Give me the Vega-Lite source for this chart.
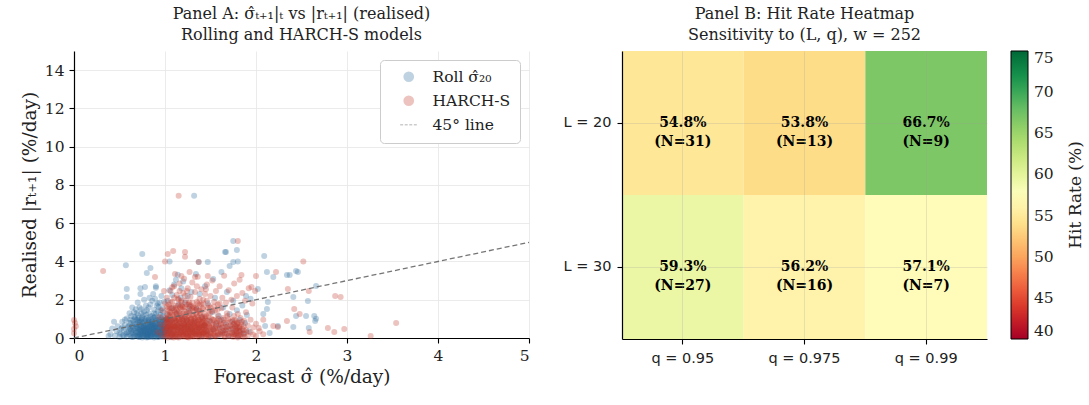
{
"$schema": "https://vega.github.io/schema/vega-lite/v6.json",
"background": "white",
"padding": {"left": 20, "top": 6, "right": 5, "bottom": 5},
"spacing": 31,
"resolve": {"scale": {"color": "independent", "shape": "independent", "opacity": "independent"}, "legend": {"color": "independent", "shape": "independent", "opacity": "independent"}},
"config": {
  "font": "DejaVu Serif",
  "view": {"stroke": null},
  "axis": {"domainColor": "black", "domainWidth": 1.2, "tickColor": "black", "tickSize": 5, "tickWidth": 1.1, "labelFont": "DejaVu Serif", "labelFontSize": 15.5, "labelColor": "#222", "titleFont": "DejaVu Serif", "titleFontSize": 18.5, "titleFontWeight": "normal", "titleColor": "#222", "gridColor": "#e6e6e6", "gridWidth": 0.8, "labelPadding": 5},
  "title": {"font": "DejaVu Serif", "fontSize": 16, "fontWeight": "normal", "color": "#222", "offset": 8, "lineHeight": 21, "anchor": "middle"},
  "legend": {"labelFont": "DejaVu Serif", "titleFont": "DejaVu Serif"}
},
"datasets": {
"diag": [{"x": 0, "y": 0}, {"x": 5, "y": 5}],
"heat": [
 {"L": "L = 20", "q": "q = 0.95", "hit": 54.8, "lab": "54.8%\n(N=31)"},
 {"L": "L = 20", "q": "q = 0.975", "hit": 53.8, "lab": "53.8%\n(N=13)"},
 {"L": "L = 20", "q": "q = 0.99", "hit": 66.7, "lab": "66.7%\n(N=9)"},
 {"L": "L = 30", "q": "q = 0.95", "hit": 59.3, "lab": "59.3%\n(N=27)"},
 {"L": "L = 30", "q": "q = 0.975", "hit": 56.2, "lab": "56.2%\n(N=16)"},
 {"L": "L = 30", "q": "q = 0.99", "hit": 57.1, "lab": "57.1%\n(N=7)"}
],
"pts": [
{"s":"R","x":0.40,"y":0.2},{"s":"R","x":0.42,"y":0.5},{"s":"R","x":0.38,"y":0.1},{"s":"R","x":0.44,"y":0.85},
{"s":"R","x":0.45,"y":0.12},{"s":"R","x":0.47,"y":0.35},{"s":"R","x":0.48,"y":0.62},{"s":"R","x":0.50,"y":0.05},{"s":"R","x":0.50,"y":0.28},{"s":"R","x":0.52,"y":0.48},{"s":"R","x":0.53,"y":0.85},{"s":"R","x":0.54,"y":0.15},{"s":"R","x":0.55,"y":0.40},{"s":"R","x":0.56,"y":0.68},{"s":"R","x":0.57,"y":0.22},{"s":"R","x":0.58,"y":1.02},{"s":"R","x":0.58,"y":0.08},{"s":"R","x":0.59,"y":0.55},{"s":"R","x":0.60,"y":0.30},{"s":"R","x":0.61,"y":0.78},{"s":"R","x":0.62,"y":0.12},{"s":"R","x":0.62,"y":0.45},{"s":"R","x":0.63,"y":1.15},{"s":"R","x":0.64,"y":0.25},{"s":"R","x":0.64,"y":0.62},{"s":"R","x":0.65,"y":0.92},{"s":"R","x":0.65,"y":0.05},{"s":"R","x":0.66,"y":0.38},{"s":"R","x":0.66,"y":1.35},{"s":"R","x":0.67,"y":0.18},{"s":"R","x":0.67,"y":0.72},{"s":"R","x":0.68,"y":0.50},{"s":"R","x":0.68,"y":0.95},{"s":"R","x":0.69,"y":0.10},
{"s":"R","x":0.70,"y":0.32},{"s":"R","x":0.70,"y":0.58},{"s":"R","x":0.70,"y":1.22},{"s":"R","x":0.71,"y":0.05},{"s":"R","x":0.71,"y":0.85},{"s":"R","x":0.72,"y":0.20},{"s":"R","x":0.72,"y":0.44},{"s":"R","x":0.72,"y":1.60},{"s":"R","x":0.73,"y":0.70},{"s":"R","x":0.73,"y":0.12},{"s":"R","x":0.74,"y":0.95},{"s":"R","x":0.74,"y":0.36},{"s":"R","x":0.75,"y":0.02},{"s":"R","x":0.75,"y":0.55},{"s":"R","x":0.75,"y":1.10},{"s":"R","x":0.76,"y":0.25},{"s":"R","x":0.76,"y":0.78},{"s":"R","x":0.77,"y":0.40},{"s":"R","x":0.77,"y":1.40},{"s":"R","x":0.77,"y":0.08},{"s":"R","x":0.78,"y":0.62},{"s":"R","x":0.78,"y":0.18},{"s":"R","x":0.79,"y":0.90},{"s":"R","x":0.79,"y":0.30},{"s":"R","x":0.80,"y":0.48},{"s":"R","x":0.80,"y":1.05},{"s":"R","x":0.80,"y":0.03},{"s":"R","x":0.81,"y":0.72},{"s":"R","x":0.81,"y":0.22},{"s":"R","x":0.82,"y":1.30},{"s":"R","x":0.82,"y":0.55},{"s":"R","x":0.82,"y":0.10},{"s":"R","x":0.83,"y":0.38},{"s":"R","x":0.83,"y":0.85},{"s":"R","x":0.84,"y":0.15},{"s":"R","x":0.84,"y":1.75},{"s":"R","x":0.84,"y":0.65},{"s":"R","x":0.85,"y":0.28},{"s":"R","x":0.85,"y":1.00},{"s":"R","x":0.85,"y":0.45},{"s":"R","x":0.71,"y":0.40},{"s":"R","x":0.73,"y":0.28},{"s":"R","x":0.74,"y":0.60},{"s":"R","x":0.76,"y":0.50},{"s":"R","x":0.78,"y":0.35},{"s":"R","x":0.79,"y":0.12},{"s":"R","x":0.81,"y":0.42},{"s":"R","x":0.83,"y":0.22},{"s":"R","x":0.70,"y":0.15},{"s":"R","x":0.72,"y":0.92},{"s":"R","x":0.75,"y":0.30},{"s":"R","x":0.77,"y":0.65},{"s":"R","x":0.80,"y":0.20},{"s":"R","x":0.82,"y":0.80},{"s":"R","x":0.84,"y":0.35},{"s":"R","x":0.76,"y":1.20},{"s":"R","x":0.79,"y":0.52},{"s":"R","x":0.81,"y":0.05},{"s":"R","x":0.83,"y":0.60},{"s":"R","x":0.85,"y":0.70},
{"s":"R","x":0.86,"y":0.10},{"s":"R","x":0.86,"y":0.52},{"s":"R","x":0.86,"y":1.15},{"s":"R","x":0.87,"y":0.30},{"s":"R","x":0.87,"y":0.75},{"s":"R","x":0.88,"y":0.02},{"s":"R","x":0.88,"y":0.45},{"s":"R","x":0.88,"y":1.48},{"s":"R","x":0.89,"y":0.20},{"s":"R","x":0.89,"y":0.88},{"s":"R","x":0.90,"y":0.60},{"s":"R","x":0.90,"y":0.12},{"s":"R","x":0.90,"y":1.25},{"s":"R","x":0.91,"y":0.38},{"s":"R","x":0.91,"y":0.95},{"s":"R","x":0.92,"y":0.05},{"s":"R","x":0.92,"y":0.68},{"s":"R","x":0.93,"y":0.28},{"s":"R","x":0.93,"y":1.62},{"s":"R","x":0.94,"y":0.50},{"s":"R","x":0.94,"y":0.15},{"s":"R","x":0.95,"y":0.82},{"s":"R","x":0.95,"y":0.35},{"s":"R","x":0.96,"y":1.05},{"s":"R","x":0.96,"y":0.08},{"s":"R","x":0.97,"y":0.58},{"s":"R","x":0.97,"y":0.25},{"s":"R","x":0.98,"y":1.35},{"s":"R","x":0.98,"y":0.42},{"s":"R","x":0.99,"y":0.72},{"s":"R","x":0.99,"y":0.18},{"s":"R","x":1.00,"y":0.95},{"s":"R","x":1.00,"y":0.30},{"s":"R","x":0.87,"y":0.40},{"s":"R","x":0.89,"y":0.55},{"s":"R","x":0.91,"y":0.22},{"s":"R","x":0.93,"y":0.78},{"s":"R","x":0.95,"y":0.10},{"s":"R","x":0.97,"y":0.90},{"s":"R","x":0.99,"y":0.48},{"s":"R","x":0.86,"y":0.85},{"s":"R","x":0.88,"y":0.65},{"s":"R","x":0.90,"y":0.33},{"s":"R","x":0.92,"y":1.10},{"s":"R","x":0.94,"y":0.72},{"s":"R","x":0.96,"y":0.40},{"s":"R","x":0.98,"y":0.15},{"s":"R","x":1.00,"y":0.62},{"s":"R","x":0.89,"y":2.05},{"s":"R","x":0.94,"y":1.85},{"s":"R","x":0.87,"y":2.30},{"s":"R","x":0.91,"y":1.70},{"s":"R","x":0.96,"y":2.20},{"s":"R","x":0.90,"y":2.62},{"s":"R","x":0.99,"y":1.90},
{"s":"R","x":0.60,"y":0.62},{"s":"R","x":0.62,"y":0.95},{"s":"R","x":0.63,"y":0.35},{"s":"R","x":0.65,"y":0.55},{"s":"R","x":0.66,"y":0.12},{"s":"R","x":0.67,"y":1.02},{"s":"R","x":0.68,"y":0.30},{"s":"R","x":0.69,"y":0.75},{"s":"R","x":0.70,"y":0.48},{"s":"R","x":0.71,"y":1.05},{"s":"R","x":0.72,"y":0.05},{"s":"R","x":0.72,"y":0.68},{"s":"R","x":0.73,"y":0.42},{"s":"R","x":0.74,"y":0.18},{"s":"R","x":0.74,"y":1.30},{"s":"R","x":0.75,"y":0.82},{"s":"R","x":0.76,"y":0.38},{"s":"R","x":0.76,"y":0.10},{"s":"R","x":0.77,"y":0.55},{"s":"R","x":0.78,"y":0.98},{"s":"R","x":0.78,"y":0.25},{"s":"R","x":0.79,"y":0.70},{"s":"R","x":0.80,"y":0.38},{"s":"R","x":0.80,"y":1.45},{"s":"R","x":0.81,"y":0.15},{"s":"R","x":0.81,"y":0.60},{"s":"R","x":0.82,"y":0.32},{"s":"R","x":0.82,"y":0.95},{"s":"R","x":0.83,"y":0.08},{"s":"R","x":0.83,"y":0.48},{"s":"R","x":0.84,"y":1.12},{"s":"R","x":0.84,"y":0.25},{"s":"R","x":0.85,"y":0.58},{"s":"R","x":0.85,"y":0.12},{"s":"R","x":0.86,"y":0.38},{"s":"R","x":0.86,"y":0.70},{"s":"R","x":0.87,"y":0.18},{"s":"R","x":0.87,"y":1.05},{"s":"R","x":0.88,"y":0.55},{"s":"R","x":0.88,"y":0.28},{"s":"R","x":0.89,"y":0.08},{"s":"R","x":0.89,"y":0.72},{"s":"R","x":0.90,"y":0.45},{"s":"R","x":0.90,"y":0.95},{"s":"R","x":0.91,"y":0.15},{"s":"R","x":0.91,"y":0.62},{"s":"R","x":0.92,"y":0.35},{"s":"R","x":0.92,"y":1.40},{"s":"R","x":0.93,"y":0.52},{"s":"R","x":0.93,"y":0.05},{"s":"R","x":0.94,"y":0.88},{"s":"R","x":0.94,"y":0.30},{"s":"R","x":0.95,"y":0.58},{"s":"R","x":0.95,"y":1.20},{"s":"R","x":0.96,"y":0.22},{"s":"R","x":0.96,"y":0.75},{"s":"R","x":0.97,"y":0.42},{"s":"R","x":0.97,"y":0.08},{"s":"R","x":0.98,"y":0.65},{"s":"R","x":0.98,"y":0.95},{"s":"R","x":0.99,"y":0.30},{"s":"R","x":1.00,"y":0.12},{"s":"R","x":1.00,"y":0.80},{"s":"R","x":1.01,"y":0.45},{"s":"R","x":1.02,"y":1.00},{"s":"R","x":1.03,"y":0.25},{"s":"R","x":1.04,"y":0.62},{"s":"R","x":1.05,"y":0.40},{"s":"R","x":1.06,"y":0.90},{"s":"R","x":1.08,"y":0.15},{"s":"R","x":0.64,"y":1.60},{"s":"R","x":0.70,"y":1.85},{"s":"R","x":0.79,"y":1.70},{"s":"R","x":0.86,"y":1.95},{"s":"R","x":0.92,"y":1.80},{"s":"R","x":0.83,"y":2.10},{"s":"R","x":0.77,"y":2.0},{"s":"R","x":0.97,"y":1.55},{"s":"R","x":0.61,"y":1.30},{"s":"R","x":0.68,"y":1.50},
{"s":"R","x":0.605,"y":0.2},{"s":"R","x":0.615,"y":0.5},{"s":"R","x":0.625,"y":0.8},{"s":"R","x":0.635,"y":0.05},{"s":"R","x":0.645,"y":0.42},{"s":"R","x":0.655,"y":0.72},{"s":"R","x":0.665,"y":1.1},{"s":"R","x":0.675,"y":0.28},{"s":"R","x":0.685,"y":0.62},{"s":"R","x":0.695,"y":0.95},{"s":"R","x":0.705,"y":0.12},{"s":"R","x":0.715,"y":0.55},{"s":"R","x":0.725,"y":0.82},{"s":"R","x":0.735,"y":0.35},{"s":"R","x":0.745,"y":1.02},{"s":"R","x":0.755,"y":0.15},{"s":"R","x":0.765,"y":0.62},{"s":"R","x":0.775,"y":0.88},{"s":"R","x":0.785,"y":0.45},{"s":"R","x":0.795,"y":1.2},{"s":"R","x":0.805,"y":0.08},{"s":"R","x":0.815,"y":0.92},{"s":"R","x":0.825,"y":0.42},{"s":"R","x":0.835,"y":0.72},{"s":"R","x":0.845,"y":0.05},{"s":"R","x":0.855,"y":0.85},{"s":"R","x":0.865,"y":0.25},{"s":"R","x":0.875,"y":0.6},{"s":"R","x":0.885,"y":1.1},{"s":"R","x":0.895,"y":0.35},{"s":"R","x":0.905,"y":0.78},{"s":"R","x":0.915,"y":0.5},{"s":"R","x":0.925,"y":0.2},{"s":"R","x":0.935,"y":0.95},{"s":"R","x":0.945,"y":0.62},{"s":"R","x":0.955,"y":0.25},{"s":"R","x":0.965,"y":0.52},{"s":"R","x":0.975,"y":1.15},{"s":"R","x":0.985,"y":0.35},{"s":"R","x":0.995,"y":0.85},{"s":"R","x":0.74,"y":1.5},{"s":"R","x":0.82,"y":1.6},{"s":"R","x":0.88,"y":1.3},{"s":"R","x":0.69,"y":1.3},{"s":"R","x":0.95,"y":1.45},{"s":"R","x":0.58,"y":0.3},{"s":"R","x":0.56,"y":0.95},{"s":"R","x":0.53,"y":0.55},{"s":"R","x":0.51,"y":0.2},{"s":"R","x":0.55,"y":0.1},
{"s":"R","x":1.02,"y":0.12},{"s":"R","x":1.02,"y":0.55},{"s":"R","x":1.03,"y":1.20},{"s":"R","x":1.04,"y":0.35},{"s":"R","x":1.05,"y":0.80},{"s":"R","x":1.06,"y":0.05},{"s":"R","x":1.07,"y":0.48},{"s":"R","x":1.08,"y":1.55},{"s":"R","x":1.09,"y":0.25},{"s":"R","x":1.10,"y":0.95},{"s":"R","x":1.11,"y":0.62},{"s":"R","x":1.12,"y":0.15},{"s":"R","x":1.13,"y":1.30},{"s":"R","x":1.14,"y":0.40},{"s":"R","x":1.15,"y":0.75},{"s":"R","x":1.16,"y":0.08},{"s":"R","x":1.17,"y":2.10},{"s":"R","x":1.18,"y":0.52},{"s":"R","x":1.19,"y":1.05},{"s":"R","x":1.20,"y":0.30},{"s":"R","x":1.21,"y":0.68},{"s":"R","x":1.22,"y":1.85},{"s":"R","x":1.23,"y":0.20},{"s":"R","x":1.24,"y":0.90},{"s":"R","x":1.25,"y":0.45},{"s":"R","x":1.26,"y":1.40},{"s":"R","x":1.27,"y":0.10},{"s":"R","x":1.28,"y":0.60},{"s":"R","x":1.29,"y":2.40},{"s":"R","x":1.30,"y":0.35},{"s":"R","x":1.05,"y":2.50},{"s":"R","x":1.10,"y":2.80},{"s":"R","x":1.15,"y":1.75},{"s":"R","x":1.20,"y":2.95},{"s":"R","x":1.25,"y":2.20},{"s":"R","x":1.12,"y":3.05},{"s":"R","x":1.08,"y":2.25},{"s":"R","x":1.18,"y":2.60},{"s":"R","x":1.27,"y":1.65},{"s":"R","x":1.03,"y":1.95},
{"s":"R","x":1.32,"y":0.85},{"s":"R","x":1.34,"y":0.20},{"s":"R","x":1.35,"y":1.50},{"s":"R","x":1.37,"y":0.50},{"s":"R","x":1.38,"y":2.30},{"s":"R","x":1.40,"y":0.10},{"s":"R","x":1.41,"y":1.10},{"s":"R","x":1.43,"y":0.65},{"s":"R","x":1.44,"y":2.70},{"s":"R","x":1.46,"y":0.30},{"s":"R","x":1.47,"y":1.80},{"s":"R","x":1.49,"y":0.90},{"s":"R","x":1.50,"y":0.05},{"s":"R","x":1.52,"y":1.35},{"s":"R","x":1.53,"y":0.45},{"s":"R","x":1.55,"y":2.10},{"s":"R","x":1.56,"y":0.75},{"s":"R","x":1.58,"y":0.15},{"s":"R","x":1.59,"y":1.15},{"s":"R","x":1.60,"y":0.55},{"s":"R","x":1.62,"y":0.95},{"s":"R","x":1.63,"y":0.25},{"s":"R","x":1.64,"y":1.60},{"s":"R","x":1.66,"y":0.40},{"s":"R","x":1.67,"y":0.70},{"s":"R","x":1.68,"y":2.40},{"s":"R","x":1.70,"y":0.12},{"s":"R","x":1.71,"y":1.25},{"s":"R","x":1.72,"y":0.50},{"s":"R","x":1.74,"y":0.85},{"s":"R","x":1.75,"y":1.95},{"s":"R","x":1.76,"y":0.30},{"s":"R","x":1.78,"y":0.62},{"s":"R","x":1.79,"y":1.45},{"s":"R","x":1.80,"y":0.08},{"s":"R","x":1.82,"y":0.95},{"s":"R","x":1.83,"y":0.40},{"s":"R","x":1.85,"y":1.70},{"s":"R","x":1.86,"y":0.22},{"s":"R","x":1.88,"y":0.78},{"s":"R","x":1.90,"y":1.20},{"s":"R","x":1.92,"y":0.35},{"s":"R","x":1.94,"y":2.05},
{"s":"R","x":1.32,"y":7.43},{"s":"R","x":0.75,"y":4.39},{"s":"R","x":0.57,"y":3.8},{"s":"R","x":0.80,"y":3.4},{"s":"R","x":0.84,"y":3.66},{"s":"R","x":1.05,"y":4.0},{"s":"R","x":1.37,"y":3.97},{"s":"R","x":1.47,"y":3.97},{"s":"R","x":1.62,"y":3.45},{"s":"R","x":1.66,"y":4.5},{"s":"R","x":0.58,"y":2.56},{"s":"R","x":0.58,"y":2.14},{"s":"R","x":0.73,"y":2.6},{"s":"R","x":0.78,"y":2.66},{"s":"R","x":0.73,"y":2.3},{"s":"R","x":0.90,"y":2.7},{"s":"R","x":1.14,"y":3.3},{"s":"R","x":1.34,"y":3.34},{"s":"R","x":1.53,"y":3.08},{"s":"R","x":1.75,"y":5.07},{"s":"R","x":1.67,"y":4.5},{"s":"R","x":1.79,"y":4.6},{"s":"R","x":1.80,"y":4.0},{"s":"R","x":1.75,"y":3.97},{"s":"R","x":1.71,"y":3.76},{"s":"R","x":2.09,"y":4.28},{"s":"R","x":2.12,"y":3.45},{"s":"R","x":2.19,"y":3.19},{"s":"R","x":2.44,"y":3.5},{"s":"R","x":2.34,"y":3.29},{"s":"R","x":2.37,"y":3.29},{"s":"R","x":2.46,"y":3.45},{"s":"R","x":2.66,"y":2.72},{"s":"R","x":2.57,"y":1.93},{"s":"R","x":2.41,"y":2.14},{"s":"R","x":2.44,"y":1.15},{"s":"R","x":2.55,"y":1.15},{"s":"R","x":2.64,"y":1.15},{"s":"R","x":2.66,"y":1.0},{"s":"R","x":2.41,"y":0.57},{"s":"R","x":2.58,"y":0.52},{"s":"R","x":2.24,"y":0.63},{"s":"R","x":2.15,"y":0.26},{"s":"R","x":2.10,"y":0.63},{"s":"R","x":2.12,"y":1.52},{"s":"R","x":2.08,"y":1.25},{"s":"R","x":2.13,"y":1.88},{"s":"R","x":2.02,"y":2.56},{"s":"R","x":1.89,"y":2.19},{"s":"R","x":2.65,"y":0.89},
{"s":"H","x":0.0,"y":0.94},{"s":"H","x":0.0,"y":0.47},{"s":"H","x":0.01,"y":0.78},{"s":"H","x":0.0,"y":0.25},{"s":"H","x":0.02,"y":0.62},
{"s":"H","x":0.92,"y":0.3},{"s":"H","x":0.95,"y":0.7},{"s":"H","x":0.96,"y":0.15},{"s":"H","x":0.98,"y":0.5},{"s":"H","x":0.94,"y":1.1},
{"s":"H","x":1.00,"y":0.05},{"s":"H","x":1.00,"y":0.35},{"s":"H","x":1.00,"y":0.70},{"s":"H","x":1.00,"y":1.05},
{"s":"H","x":1.02,"y":0.18},{"s":"H","x":1.02,"y":0.52},{"s":"H","x":1.02,"y":0.88},{"s":"H","x":1.02,"y":1.25},
{"s":"H","x":1.03,"y":0.02},{"s":"H","x":1.03,"y":0.40},{"s":"H","x":1.03,"y":0.75},
{"s":"H","x":1.04,"y":0.25},{"s":"H","x":1.04,"y":0.60},{"s":"H","x":1.04,"y":0.95},{"s":"H","x":1.04,"y":1.40},
{"s":"H","x":1.05,"y":0.10},{"s":"H","x":1.05,"y":0.45},{"s":"H","x":1.05,"y":0.82},
{"s":"H","x":1.06,"y":0.30},{"s":"H","x":1.06,"y":0.65},{"s":"H","x":1.06,"y":1.10},
{"s":"H","x":1.07,"y":0.04},{"s":"H","x":1.07,"y":0.38},{"s":"H","x":1.07,"y":0.72},{"s":"H","x":1.07,"y":1.55},
{"s":"H","x":1.08,"y":0.20},{"s":"H","x":1.08,"y":0.55},{"s":"H","x":1.08,"y":0.90},
{"s":"H","x":1.09,"y":0.12},{"s":"H","x":1.09,"y":0.48},{"s":"H","x":1.09,"y":0.80},{"s":"H","x":1.09,"y":1.20},
{"s":"H","x":1.10,"y":0.28},{"s":"H","x":1.10,"y":0.62},{"s":"H","x":1.10,"y":1.00},
{"s":"H","x":1.11,"y":0.06},{"s":"H","x":1.11,"y":0.42},{"s":"H","x":1.11,"y":0.78},{"s":"H","x":1.11,"y":1.35},
{"s":"H","x":1.12,"y":0.22},{"s":"H","x":1.12,"y":0.58},{"s":"H","x":1.12,"y":0.92},
{"s":"H","x":1.13,"y":0.14},{"s":"H","x":1.13,"y":0.50},{"s":"H","x":1.13,"y":0.85},{"s":"H","x":1.13,"y":1.15},
{"s":"H","x":1.14,"y":0.32},{"s":"H","x":1.14,"y":0.68},{"s":"H","x":1.14,"y":1.05},{"s":"H","x":1.14,"y":1.70},
{"s":"H","x":1.15,"y":0.03},{"s":"H","x":1.15,"y":0.40},{"s":"H","x":1.15,"y":0.74},
{"s":"H","x":1.16,"y":0.24},{"s":"H","x":1.16,"y":0.56},{"s":"H","x":1.16,"y":0.95},{"s":"H","x":1.16,"y":1.30},
{"s":"H","x":1.17,"y":0.10},{"s":"H","x":1.17,"y":0.46},{"s":"H","x":1.17,"y":0.82},
{"s":"H","x":1.18,"y":0.30},{"s":"H","x":1.18,"y":0.64},{"s":"H","x":1.18,"y":1.12},{"s":"H","x":1.18,"y":1.50},
{"s":"H","x":1.19,"y":0.07},{"s":"H","x":1.19,"y":0.38},{"s":"H","x":1.19,"y":0.76},
{"s":"H","x":1.20,"y":0.20},{"s":"H","x":1.20,"y":0.54},{"s":"H","x":1.20,"y":0.90},{"s":"H","x":1.20,"y":1.25},
{"s":"H","x":1.21,"y":0.12},{"s":"H","x":1.21,"y":0.44},{"s":"H","x":1.21,"y":0.80},
{"s":"H","x":1.22,"y":0.34},{"s":"H","x":1.22,"y":0.70},{"s":"H","x":1.22,"y":1.08},{"s":"H","x":1.22,"y":1.62},
{"s":"H","x":1.23,"y":0.05},{"s":"H","x":1.23,"y":0.40},{"s":"H","x":1.23,"y":0.78},
{"s":"H","x":1.24,"y":0.26},{"s":"H","x":1.24,"y":0.60},{"s":"H","x":1.24,"y":0.98},{"s":"H","x":1.24,"y":1.35},
{"s":"H","x":1.25,"y":0.15},{"s":"H","x":1.25,"y":0.48},{"s":"H","x":1.25,"y":0.85},
{"s":"H","x":1.26,"y":0.02},{"s":"H","x":1.26,"y":0.36},{"s":"H","x":1.26,"y":0.72},{"s":"H","x":1.26,"y":1.15},
{"s":"H","x":1.27,"y":0.22},{"s":"H","x":1.27,"y":0.58},{"s":"H","x":1.27,"y":0.94},
{"s":"H","x":1.28,"y":0.10},{"s":"H","x":1.28,"y":0.44},{"s":"H","x":1.28,"y":0.82},{"s":"H","x":1.28,"y":1.45},
{"s":"H","x":1.29,"y":0.30},{"s":"H","x":1.29,"y":0.66},{"s":"H","x":1.29,"y":1.02},
{"s":"H","x":1.30,"y":0.06},{"s":"H","x":1.30,"y":0.40},{"s":"H","x":1.30,"y":0.76},{"s":"H","x":1.30,"y":1.20},
{"s":"H","x":1.31,"y":0.18},{"s":"H","x":1.31,"y":0.52},{"s":"H","x":1.31,"y":0.90},
{"s":"H","x":1.32,"y":0.28},{"s":"H","x":1.32,"y":0.62},{"s":"H","x":1.32,"y":1.05},{"s":"H","x":1.32,"y":1.58},
{"s":"H","x":1.33,"y":0.08},{"s":"H","x":1.33,"y":0.42},{"s":"H","x":1.33,"y":0.80},
{"s":"H","x":1.34,"y":0.20},{"s":"H","x":1.34,"y":0.55},{"s":"H","x":1.34,"y":0.92},{"s":"H","x":1.34,"y":1.30},
{"s":"H","x":1.35,"y":0.12},{"s":"H","x":1.35,"y":0.46},{"s":"H","x":1.35,"y":0.84},
{"s":"H","x":1.36,"y":0.32},{"s":"H","x":1.36,"y":0.68},{"s":"H","x":1.36,"y":1.10},
{"s":"H","x":1.37,"y":0.04},{"s":"H","x":1.37,"y":0.38},{"s":"H","x":1.37,"y":0.74},{"s":"H","x":1.37,"y":1.42},
{"s":"H","x":1.38,"y":0.24},{"s":"H","x":1.38,"y":0.58},{"s":"H","x":1.38,"y":0.96},
{"s":"H","x":1.39,"y":0.14},{"s":"H","x":1.39,"y":0.50},{"s":"H","x":1.39,"y":0.86},
{"s":"H","x":1.40,"y":0.30},{"s":"H","x":1.40,"y":0.64},{"s":"H","x":1.40,"y":1.08},{"s":"H","x":1.40,"y":1.75},
{"s":"H","x":1.41,"y":0.06},{"s":"H","x":1.41,"y":0.40},{"s":"H","x":1.41,"y":0.78},
{"s":"H","x":1.42,"y":0.22},{"s":"H","x":1.42,"y":0.56},{"s":"H","x":1.42,"y":0.94},
{"s":"H","x":1.43,"y":0.12},{"s":"H","x":1.43,"y":0.46},{"s":"H","x":1.43,"y":0.88},{"s":"H","x":1.43,"y":1.25},
{"s":"H","x":1.44,"y":0.34},{"s":"H","x":1.44,"y":0.70},{"s":"H","x":1.44,"y":1.02},
{"s":"H","x":1.45,"y":0.08},{"s":"H","x":1.45,"y":0.42},{"s":"H","x":1.45,"y":0.80},
{"s":"H","x":1.01,"y":0.22},{"s":"H","x":1.01,"y":0.60},{"s":"H","x":1.01,"y":0.95},{"s":"H","x":1.03,"y":0.55},{"s":"H","x":1.03,"y":0.98},{"s":"H","x":1.03,"y":1.50},{"s":"H","x":1.05,"y":0.28},{"s":"H","x":1.05,"y":0.65},{"s":"H","x":1.05,"y":1.20},{"s":"H","x":1.07,"y":0.15},{"s":"H","x":1.07,"y":0.58},{"s":"H","x":1.07,"y":0.95},{"s":"H","x":1.09,"y":0.35},{"s":"H","x":1.09,"y":0.65},{"s":"H","x":1.09,"y":1.60},{"s":"H","x":1.11,"y":0.20},{"s":"H","x":1.11,"y":0.58},{"s":"H","x":1.11,"y":1.05},{"s":"H","x":1.13,"y":0.32},{"s":"H","x":1.13,"y":0.68},{"s":"H","x":1.13,"y":1.45},{"s":"H","x":1.15,"y":0.18},{"s":"H","x":1.15,"y":0.55},{"s":"H","x":1.15,"y":1.00},{"s":"H","x":1.15,"y":1.40},{"s":"H","x":1.17,"y":0.28},{"s":"H","x":1.17,"y":0.62},{"s":"H","x":1.17,"y":1.20},{"s":"H","x":1.19,"y":0.20},{"s":"H","x":1.19,"y":0.55},{"s":"H","x":1.19,"y":0.95},{"s":"H","x":1.19,"y":1.65},{"s":"H","x":1.21,"y":0.30},{"s":"H","x":1.21,"y":0.62},{"s":"H","x":1.21,"y":1.00},{"s":"H","x":1.23,"y":0.22},{"s":"H","x":1.23,"y":0.58},{"s":"H","x":1.23,"y":1.25},{"s":"H","x":1.25,"y":0.05},{"s":"H","x":1.25,"y":0.32},{"s":"H","x":1.25,"y":0.68},{"s":"H","x":1.25,"y":1.05},{"s":"H","x":1.27,"y":0.40},{"s":"H","x":1.27,"y":0.75},{"s":"H","x":1.27,"y":1.30},{"s":"H","x":1.29,"y":0.15},{"s":"H","x":1.29,"y":0.50},{"s":"H","x":1.29,"y":0.85},{"s":"H","x":1.31,"y":0.35},{"s":"H","x":1.31,"y":0.70},{"s":"H","x":1.31,"y":1.40},{"s":"H","x":1.33,"y":0.25},{"s":"H","x":1.33,"y":0.60},{"s":"H","x":1.33,"y":1.00},{"s":"H","x":1.35,"y":0.30},{"s":"H","x":1.35,"y":0.65},{"s":"H","x":1.35,"y":1.20},{"s":"H","x":1.37,"y":0.20},{"s":"H","x":1.37,"y":0.55},{"s":"H","x":1.37,"y":0.95},{"s":"H","x":1.39,"y":0.32},{"s":"H","x":1.39,"y":0.68},{"s":"H","x":1.39,"y":1.30},{"s":"H","x":1.41,"y":0.22},{"s":"H","x":1.41,"y":0.58},{"s":"H","x":1.41,"y":1.00},{"s":"H","x":1.43,"y":0.30},{"s":"H","x":1.43,"y":0.66},{"s":"H","x":1.45,"y":0.20},{"s":"H","x":1.45,"y":0.60},{"s":"H","x":1.45,"y":1.15},{"s":"H","x":1.47,"y":0.35},{"s":"H","x":1.47,"y":0.75},{"s":"H","x":1.49,"y":0.15},{"s":"H","x":1.49,"y":0.55},{"s":"H","x":1.51,"y":0.40},{"s":"H","x":1.51,"y":1.00},{"s":"H","x":1.53,"y":0.22},{"s":"H","x":1.53,"y":0.70},{"s":"H","x":1.55,"y":0.10},{"s":"H","x":1.55,"y":0.50},{"s":"H","x":1.57,"y":0.35},{"s":"H","x":1.57,"y":0.90},{"s":"H","x":1.59,"y":0.20},{"s":"H","x":1.59,"y":0.65},{"s":"H","x":1.61,"y":0.30},{"s":"H","x":1.63,"y":0.55},{"s":"H","x":1.65,"y":0.15},{"s":"H","x":1.65,"y":0.80},{"s":"H","x":1.67,"y":0.40},{"s":"H","x":1.69,"y":0.60},{"s":"H","x":1.71,"y":0.25},{"s":"H","x":1.73,"y":0.45},{"s":"H","x":1.75,"y":0.72},{"s":"H","x":1.77,"y":0.20},{"s":"H","x":1.79,"y":0.50},{"s":"H","x":1.81,"y":0.12},{"s":"H","x":1.82,"y":0.35},{"s":"H","x":1.84,"y":0.70},{"s":"H","x":1.86,"y":0.40},
{"s":"H","x":1.005,"y":0.4},{"s":"H","x":1.015,"y":0.8},{"s":"H","x":1.025,"y":0.15},{"s":"H","x":1.035,"y":1.1},{"s":"H","x":1.045,"y":0.5},{"s":"H","x":1.055,"y":0.9},{"s":"H","x":1.065,"y":0.2},{"s":"H","x":1.075,"y":1.3},{"s":"H","x":1.085,"y":0.65},{"s":"H","x":1.095,"y":0.02},{"s":"H","x":1.105,"y":0.45},{"s":"H","x":1.115,"y":0.9},{"s":"H","x":1.125,"y":1.25},{"s":"H","x":1.135,"y":0.05},{"s":"H","x":1.145,"y":0.55},{"s":"H","x":1.155,"y":0.85},{"s":"H","x":1.165,"y":1.6},{"s":"H","x":1.175,"y":0.35},{"s":"H","x":1.185,"y":0.98},{"s":"H","x":1.195,"y":0.15},{"s":"H","x":1.205,"y":0.72},{"s":"H","x":1.215,"y":1.4},{"s":"H","x":1.225,"y":0.5},{"s":"H","x":1.235,"y":0.95},{"s":"H","x":1.245,"y":0.1},{"s":"H","x":1.255,"y":0.62},{"s":"H","x":1.265,"y":1.85},{"s":"H","x":1.275,"y":0.3},{"s":"H","x":1.285,"y":1.0},{"s":"H","x":1.295,"y":0.48},{"s":"H","x":1.305,"y":0.12},{"s":"H","x":1.315,"y":1.15},{"s":"H","x":1.325,"y":0.75},{"s":"H","x":1.335,"y":0.35},{"s":"H","x":1.345,"y":1.5},{"s":"H","x":1.355,"y":0.58},{"s":"H","x":1.365,"y":0.9},{"s":"H","x":1.375,"y":0.15},{"s":"H","x":1.385,"y":1.2},{"s":"H","x":1.395,"y":0.4},{"s":"H","x":1.405,"y":0.82},{"s":"H","x":1.415,"y":1.55},{"s":"H","x":1.425,"y":0.28},{"s":"H","x":1.435,"y":0.65},{"s":"H","x":1.445,"y":1.1},{"s":"H","x":1.455,"y":0.35},{"s":"H","x":1.465,"y":0.9},{"s":"H","x":1.475,"y":0.15},{"s":"H","x":1.485,"y":0.62},{"s":"H","x":1.495,"y":1.3},{"s":"H","x":1.505,"y":0.25},{"s":"H","x":1.515,"y":0.7},{"s":"H","x":1.525,"y":0.95},{"s":"H","x":1.535,"y":0.45},{"s":"H","x":1.545,"y":0.15},{"s":"H","x":1.565,"y":0.8},{"s":"H","x":1.575,"y":0.5},{"s":"H","x":1.585,"y":1.0},{"s":"H","x":1.605,"y":0.2},{"s":"H","x":1.615,"y":0.75},{"s":"H","x":1.635,"y":0.4},{"s":"H","x":1.645,"y":0.95},{"s":"H","x":1.655,"y":0.25},{"s":"H","x":1.675,"y":0.55},{"s":"H","x":1.685,"y":1.15},{"s":"H","x":1.695,"y":0.1},{"s":"H","x":1.715,"y":0.85},{"s":"H","x":1.735,"y":0.6},{"s":"H","x":1.745,"y":0.2},{"s":"H","x":1.765,"y":0.95},{"s":"H","x":1.785,"y":0.35},{"s":"H","x":1.795,"y":0.8},{"s":"H","x":1.815,"y":0.55},{"s":"H","x":1.835,"y":0.2},{"s":"H","x":1.845,"y":0.85},{"s":"H","x":1.865,"y":0.6},{"s":"H","x":1.875,"y":0.05},{"s":"H","x":1.895,"y":0.3},{"s":"H","x":1.06,"y":1.35},{"s":"H","x":1.12,"y":1.55},{"s":"H","x":1.18,"y":1.95},{"s":"H","x":1.24,"y":1.75},{"s":"H","x":1.30,"y":1.55},{"s":"H","x":1.36,"y":1.8},{"s":"H","x":1.42,"y":2.0},{"s":"H","x":1.48,"y":1.4},{"s":"H","x":1.54,"y":1.65},{"s":"H","x":1.04,"y":1.75},{"s":"H","x":1.10,"y":2.1},{"s":"H","x":1.20,"y":1.6},{"s":"H","x":1.28,"y":1.7},{"s":"H","x":1.38,"y":1.45},{"s":"H","x":1.47,"y":1.6},{"s":"H","x":1.58,"y":1.5},
{"s":"H","x":1.02,"y":1.65},{"s":"H","x":1.06,"y":1.85},{"s":"H","x":1.10,"y":1.45},{"s":"H","x":1.14,"y":2.05},{"s":"H","x":1.18,"y":1.70},{"s":"H","x":1.22,"y":2.20},{"s":"H","x":1.26,"y":1.55},{"s":"H","x":1.30,"y":1.85},{"s":"H","x":1.34,"y":1.60},{"s":"H","x":1.38,"y":1.75},{"s":"H","x":1.42,"y":1.50},{"s":"H","x":1.46,"y":1.95},{"s":"H","x":1.50,"y":1.60},{"s":"H","x":1.55,"y":1.45},{"s":"H","x":1.60,"y":1.80},{"s":"H","x":1.08,"y":2.65},{"s":"H","x":1.24,"y":2.45},{"s":"H","x":1.35,"y":2.70},{"s":"H","x":1.16,"y":2.45},{"s":"H","x":1.45,"y":2.55},
{"s":"H","x":1.46,"y":0.18},{"s":"H","x":1.46,"y":0.60},{"s":"H","x":1.48,"y":0.05},{"s":"H","x":1.48,"y":0.45},{"s":"H","x":1.48,"y":1.10},{"s":"H","x":1.50,"y":0.30},{"s":"H","x":1.50,"y":0.85},{"s":"H","x":1.52,"y":0.12},{"s":"H","x":1.52,"y":0.55},{"s":"H","x":1.52,"y":1.40},{"s":"H","x":1.54,"y":0.38},{"s":"H","x":1.54,"y":0.95},{"s":"H","x":1.56,"y":0.08},{"s":"H","x":1.56,"y":0.65},{"s":"H","x":1.58,"y":0.25},{"s":"H","x":1.58,"y":1.20},{"s":"H","x":1.60,"y":0.48},{"s":"H","x":1.60,"y":0.90},{"s":"H","x":1.62,"y":0.15},{"s":"H","x":1.62,"y":0.70},{"s":"H","x":1.62,"y":1.55},{"s":"H","x":1.64,"y":0.35},{"s":"H","x":1.64,"y":1.05},{"s":"H","x":1.66,"y":0.05},{"s":"H","x":1.66,"y":0.58},{"s":"H","x":1.68,"y":0.22},{"s":"H","x":1.68,"y":0.82},{"s":"H","x":1.68,"y":1.30},{"s":"H","x":1.70,"y":0.40},{"s":"H","x":1.70,"y":1.00},{"s":"H","x":1.72,"y":0.10},{"s":"H","x":1.72,"y":0.65},{"s":"H","x":1.74,"y":0.28},{"s":"H","x":1.74,"y":0.92},{"s":"H","x":1.74,"y":1.60},{"s":"H","x":1.75,"y":0.05},{"s":"H","x":1.75,"y":0.50},{"s":"H","x":1.76,"y":0.18},{"s":"H","x":1.76,"y":0.75},{"s":"H","x":1.76,"y":1.15},{"s":"H","x":1.77,"y":0.35},{"s":"H","x":1.77,"y":0.62},{"s":"H","x":1.78,"y":0.10},{"s":"H","x":1.78,"y":0.45},{"s":"H","x":1.78,"y":0.88},{"s":"H","x":1.79,"y":0.25},{"s":"H","x":1.79,"y":0.70},{"s":"H","x":1.80,"y":0.02},{"s":"H","x":1.80,"y":0.55},{"s":"H","x":1.80,"y":1.25},{"s":"H","x":1.81,"y":0.38},{"s":"H","x":1.81,"y":0.80},{"s":"H","x":1.82,"y":0.15},{"s":"H","x":1.82,"y":0.60},{"s":"H","x":1.83,"y":0.30},{"s":"H","x":1.83,"y":1.05},{"s":"H","x":1.85,"y":0.08},{"s":"H","x":1.85,"y":0.48},{"s":"H","x":1.87,"y":0.22},{"s":"H","x":1.87,"y":0.90},{"s":"H","x":1.89,"y":0.40},{"s":"H","x":1.89,"y":1.35},{"s":"H","x":1.91,"y":0.12},{"s":"H","x":1.91,"y":0.65},{"s":"H","x":1.94,"y":0.30},{"s":"H","x":1.94,"y":0.95},{"s":"H","x":1.97,"y":0.18},{"s":"H","x":1.97,"y":0.55},{"s":"H","x":2.00,"y":0.10},{"s":"H","x":2.00,"y":0.75},{"s":"H","x":2.04,"y":0.35},{"s":"H","x":2.08,"y":0.20},{"s":"H","x":2.08,"y":0.95},
{"s":"H","x":0.97,"y":1.45},{"s":"H","x":1.00,"y":1.80},{"s":"H","x":1.02,"y":2.10},{"s":"H","x":1.05,"y":1.60},{"s":"H","x":1.06,"y":2.45},{"s":"H","x":1.08,"y":1.90},{"s":"H","x":1.10,"y":2.70},{"s":"H","x":1.12,"y":1.70},{"s":"H","x":1.13,"y":2.25},{"s":"H","x":1.15,"y":2.00},{"s":"H","x":1.16,"y":2.85},{"s":"H","x":1.18,"y":1.85},{"s":"H","x":1.20,"y":2.35},{"s":"H","x":1.21,"y":3.10},{"s":"H","x":1.23,"y":1.95},{"s":"H","x":1.25,"y":2.60},{"s":"H","x":1.26,"y":1.75},{"s":"H","x":1.28,"y":2.15},{"s":"H","x":1.30,"y":2.90},{"s":"H","x":1.31,"y":1.65},{"s":"H","x":1.33,"y":2.40},{"s":"H","x":1.35,"y":1.90},{"s":"H","x":1.36,"y":3.20},{"s":"H","x":1.38,"y":2.05},{"s":"H","x":1.40,"y":2.55},{"s":"H","x":1.42,"y":1.80},{"s":"H","x":1.44,"y":2.30},{"s":"H","x":1.46,"y":2.80},{"s":"H","x":1.48,"y":1.70},{"s":"H","x":1.50,"y":2.20},{"s":"H","x":1.52,"y":3.00},{"s":"H","x":1.54,"y":1.90},{"s":"H","x":1.56,"y":2.45},{"s":"H","x":1.58,"y":1.75},{"s":"H","x":1.60,"y":2.70},{"s":"H","x":1.63,"y":2.10},{"s":"H","x":1.65,"y":3.25},{"s":"H","x":1.67,"y":1.85},{"s":"H","x":1.70,"y":2.50},{"s":"H","x":1.73,"y":2.00},{"s":"H","x":1.76,"y":2.85},{"s":"H","x":1.79,"y":2.20},{"s":"H","x":1.82,"y":3.05},{"s":"H","x":1.85,"y":2.35},{"s":"H","x":1.88,"y":1.95},{"s":"H","x":1.92,"y":2.60},{"s":"H","x":1.96,"y":1.80},{"s":"H","x":0.99,"y":2.45},{"s":"H","x":1.11,"y":3.35},{"s":"H","x":1.27,"y":3.45},
{"s":"H","x":1.15,"y":7.44},{"s":"H","x":0.32,"y":3.5},{"s":"H","x":1.03,"y":4.39},{"s":"H","x":1.09,"y":4.55},{"s":"H","x":1.22,"y":4.5},{"s":"H","x":1.22,"y":4.24},{"s":"H","x":1.0,"y":4.0},{"s":"H","x":0.89,"y":3.19},{"s":"H","x":1.18,"y":3.24},{"s":"H","x":1.33,"y":3.19},{"s":"H","x":1.47,"y":3.24},{"s":"H","x":1.37,"y":3.97},{"s":"H","x":1.80,"y":5.07},{"s":"H","x":2.52,"y":4.0},{"s":"H","x":2.22,"y":3.45},{"s":"H","x":2.0,"y":3.24},{"s":"H","x":1.84,"y":3.29},{"s":"H","x":2.58,"y":2.46},{"s":"H","x":2.35,"y":2.56},{"s":"H","x":2.87,"y":2.19},{"s":"H","x":2.93,"y":2.14},{"s":"H","x":2.42,"y":1.52},{"s":"H","x":2.48,"y":1.25},{"s":"H","x":2.34,"y":0.89},{"s":"H","x":2.59,"y":0.31},{"s":"H","x":2.79,"y":0.52},{"s":"H","x":2.86,"y":0.31},{"s":"H","x":2.97,"y":0.47},{"s":"H","x":2.24,"y":0.57},{"s":"H","x":2.19,"y":0.63},{"s":"H","x":2.03,"y":0.52},{"s":"H","x":1.95,"y":2.66},{"s":"H","x":1.99,"y":2.46},{"s":"H","x":3.54,"y":0.78},{"s":"H","x":3.26,"y":0.10}
]
},
"hconcat": [
{
  "width": 455, "height": 287,
  "title": {"text": ["Panel A: σ̂ₜ₊₁|ₜ vs |rₜ₊₁| (realised)", "Rolling and HARCH-S models"]},
  "layer": [
    {
      "data": {"name": "pts"},
      "mark": {"type": "point", "filled": true, "size": 36, "strokeWidth": 0},
      "encoding": {
        "x": {"field": "x", "type": "quantitative", "scale": {"domain": [0, 5], "nice": false}, "axis": {"title": "Forecast σ̂ (%/day)", "values": [0, 1, 2, 3, 4, 5], "format": "d", "grid": true}},
        "y": {"field": "y", "type": "quantitative", "scale": {"domain": [0, 15], "nice": false}, "axis": {"title": "Realised |rₜ₊₁| (%/day)", "values": [0, 2, 4, 6, 8, 10, 12, 14], "grid": true, "titlePadding": 5}},
        "color": {"field": "s", "type": "nominal", "scale": {"domain": ["R", "H", "L"], "range": ["#2c6a9a", "#c0392b", "#555555"]},
          "legend": {"title": null, "orient": "top-right", "offset": 9, "fillColor": "white", "strokeColor": "#cccccc", "cornerRadius": 4, "padding": 9, "labelFontSize": 15.5, "labelFont": "DejaVu Serif", "labelColor": "#222", "symbolSize": 115, "rowPadding": 7, "symbolOffset": 12, "labelOffset": 16,
            "labelExpr": "datum.label == 'R' ? 'Roll σ̂₂₀' : datum.label == 'H' ? 'HARCH-S' : '45° line'"}},
        "shape": {"field": "s", "type": "nominal", "scale": {"domain": ["R", "H", "L"], "range": ["circle", "circle", "M-1.6,-0.12H-1.05V0.12H-1.6Z M-0.75,-0.12H-0.2V0.12H-0.75Z M0.1,-0.12H0.65V0.12H0.1Z M0.95,-0.12H1.5V0.12H0.95Z"]},
          "legend": {"title": null, "orient": "top-right", "offset": 9, "fillColor": "white", "strokeColor": "#cccccc", "cornerRadius": 4, "padding": 9, "labelFontSize": 15.5, "labelFont": "DejaVu Serif", "labelColor": "#222", "symbolSize": 115, "rowPadding": 7, "symbolOffset": 12, "labelOffset": 16,
            "labelExpr": "datum.label == 'R' ? 'Roll σ̂₂₀' : datum.label == 'H' ? 'HARCH-S' : '45° line'"}},
        "opacity": {"field": "s", "type": "nominal", "scale": {"domain": ["R", "H", "L"], "range": [0.3, 0.3, 0.85]},
          "legend": {"title": null, "orient": "top-right", "offset": 9, "fillColor": "white", "strokeColor": "#cccccc", "cornerRadius": 4, "padding": 9, "labelFontSize": 15.5, "labelFont": "DejaVu Serif", "labelColor": "#222", "symbolSize": 115, "rowPadding": 7, "symbolOffset": 12, "labelOffset": 16,
            "labelExpr": "datum.label == 'R' ? 'Roll σ̂₂₀' : datum.label == 'H' ? 'HARCH-S' : '45° line'"}}
      }
    },
    {
      "data": {"name": "diag"},
      "mark": {"type": "line", "strokeDash": [5, 3], "color": "#666666", "strokeWidth": 1.3, "opacity": 0.9},
      "encoding": {"x": {"field": "x", "type": "quantitative"}, "y": {"field": "y", "type": "quantitative"}}
    }
  ]
},
{
  "width": 365, "height": 288,
  "title": {"text": ["Panel B: Hit Rate Heatmap", "Sensitivity to (L, q), w = 252"]},
  "data": {"name": "heat"},
  "encoding": {
    "x": {"field": "q", "type": "nominal", "sort": ["q = 0.95", "q = 0.975", "q = 0.99"], "scale": {"paddingInner": 0, "paddingOuter": 0},
      "axis": {"title": null, "labelAngle": 0, "labelFont": "DejaVu Sans", "labelFontSize": 14.5, "grid": true, "gridColor": "#999999", "gridOpacity": 0.3, "bandPosition": 0.5, "zindex": 1, "labelPadding": 7}},
    "y": {"field": "L", "type": "nominal", "sort": ["L = 20", "L = 30"], "scale": {"paddingInner": 0, "paddingOuter": 0},
      "axis": {"title": null, "labelFont": "DejaVu Sans", "labelFontSize": 14.5, "grid": true, "gridColor": "#999999", "gridOpacity": 0.3, "bandPosition": 0.5, "zindex": 1, "labelPadding": 6}}
  },
  "layer": [
    {
      "mark": {"type": "rect"},
      "encoding": {
        "color": {"field": "hit", "type": "quantitative", "scale": {"domain": [40, 43.5, 47, 50.5, 54, 57.5, 61, 64.5, 68, 71.5, 75], "range": ["#a50026", "#d73027", "#f46d43", "#fdae61", "#fee08b", "#ffffbf", "#d9ef8b", "#a6d96a", "#66bd63", "#1a9850", "#006837"], "interpolate": "rgb"},
          "legend": {"title": "Hit Rate (%)", "orient": "right", "direction": "vertical", "offset": 80, "gradientLength": 288, "gradientThickness": 17, "values": [40, 45, 50, 55, 60, 65, 70, 75], "labelFont": "DejaVu Serif", "labelFontSize": 15.5, "labelColor": "#222", "labelOverlap": false, "labelBaseline": "middle", "titleFont": "DejaVu Serif", "titleFontSize": 17, "titleFontWeight": "normal", "titleColor": "#222", "titleOrient": "left", "titleAnchor": "middle", "titlePadding": -75, "gradientStrokeColor": "black", "gradientStrokeWidth": 1, "labelOffset": 6}}
      }
    },
    {
      "mark": {"type": "text", "font": "DejaVu Serif", "fontWeight": "bold", "fontSize": 14, "lineBreak": "\n", "lineHeight": 19, "color": "black", "baseline": "middle"},
      "encoding": {"text": {"field": "lab"}}
    }
  ]
}
]
}
